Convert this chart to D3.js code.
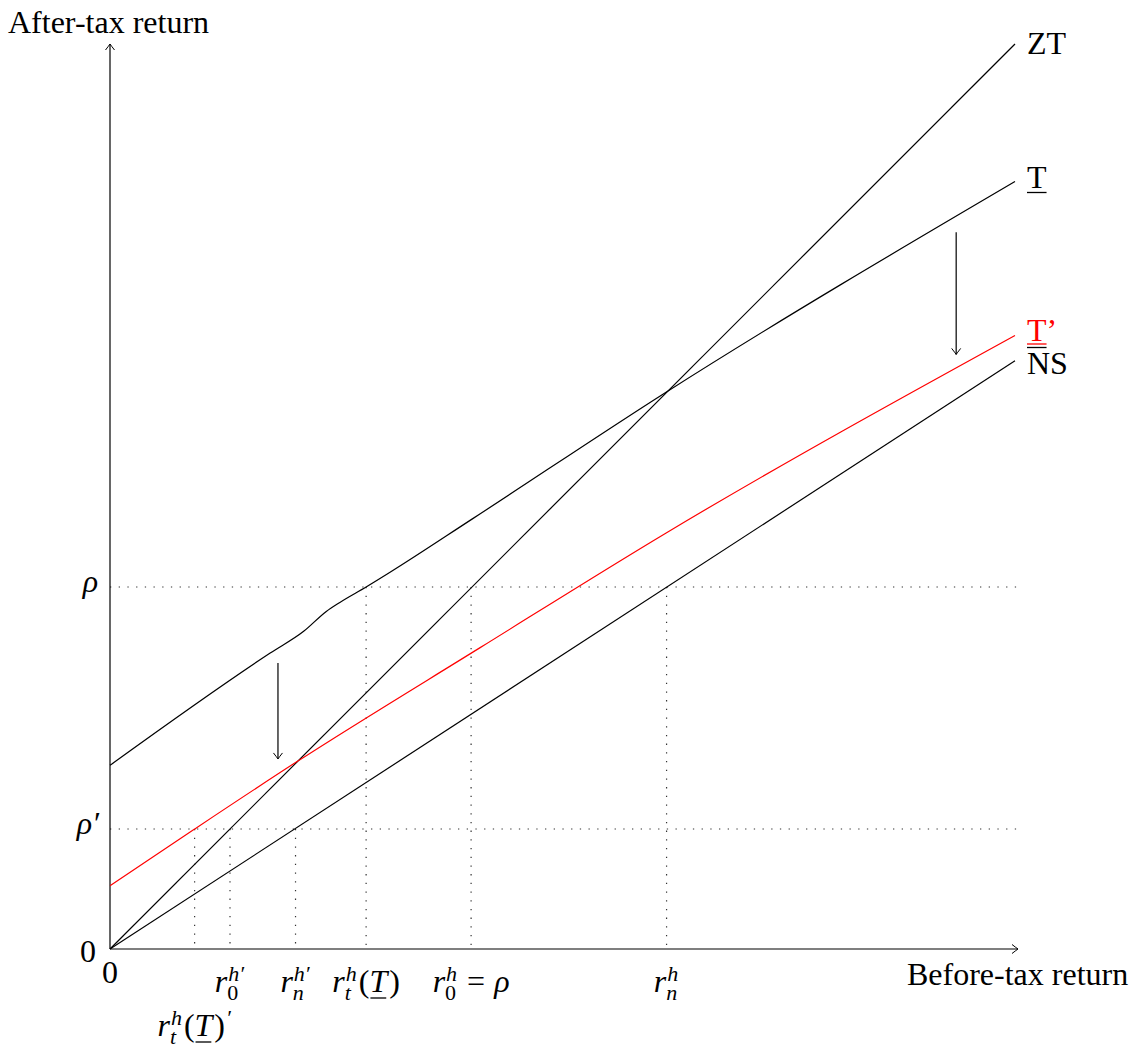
<!DOCTYPE html>
<html>
<head>
<meta charset="utf-8">
<script src="https://cdn.jsdelivr.net/npm/d3@7"></script>
<style>
  body { margin: 0; background: #fff; }
  text { font-family: "Liberation Serif", "Times New Roman", "DejaVu Serif", serif; }
</style>
</head>
<body>
<div id="scene"></div>
<script>
// ---- data (axis units) ----
var rho = 4.0;
var rhoPrime = 1.326;

var lineZT = [[0, 0], [10, 10]];
var lineNS = [[0, 0], [10, 6.5]];
var lineT = [[0, 2.03], [1.77, 3.27], [2.14, 3.51], [2.39, 3.73], [2.54, 3.83],
             [2.83, 4.0], [3.09, 4.16], [4.0, 4.75], [6.14, 6.15], [10, 8.48]];
var lineTp = [[0, 0.70], [0.935, 1.326], [2.05, 2.06], [4.09, 3.33], [6.15, 4.60], [10, 6.78]];

// dotted drop lines: x position and the level they come down from
var dropX = [0.935, 1.326, 2.05, 2.83, 3.99, 6.15];
var dropLevel = [rhoPrime, rhoPrime, rhoPrime, rho, rho, rho];

// shift arrows: x, from y, to y
var shiftArrows = [[1.856, 3.16, 2.10], [9.35, 7.92, 6.57]];

var ctx = {
  w: 1142,
  h: 1048,
  x0: 110, x1: 1015,
  y0: 949, y1: 44,
  fs: 32
};

var x = d3.scaleLinear().domain([0, 10]).range([ctx.x0, ctx.x1]);
var y = d3.scaleLinear().domain([0, 10]).range([ctx.y0, ctx.y1]);

var svg = d3.select("#scene").append("svg")
  .attr("width", ctx.w)
  .attr("height", ctx.h);

// arrow head like tikz "to"
var defs = svg.append("defs");
defs.append("marker")
  .attr("id", "tip")
  .attr("viewBox", "-8 -6 10 12")
  .attr("refX", 0).attr("refY", 0)
  .attr("markerWidth", 10).attr("markerHeight", 12)
  .attr("markerUnits", "userSpaceOnUse")
  .attr("orient", "auto")
  .append("path")
  .attr("d", "M-6,-4.5 Q-1.5,-1 0,0 Q-1.5,1 -6,4.5")
  .attr("fill", "none")
  .attr("stroke", "#000")
  .attr("stroke-width", 1);

// dotted guides
var dots = "1.3,7.4";
[rho, rhoPrime].forEach(function(v) {
  svg.append("line")
    .attr("x1", x(0)).attr("x2", x(10) + 3)
    .attr("y1", y(v)).attr("y2", y(v))
    .attr("stroke", "#333").attr("stroke-width", 1.2)
    .attr("stroke-dasharray", dots);
});
dropX.forEach(function(d, i) {
  svg.append("line")
    .attr("x1", x(d)).attr("x2", x(d))
    .attr("y1", y(dropLevel[i])).attr("y2", y(0))
    .attr("stroke", "#333").attr("stroke-width", 1.2)
    .attr("stroke-dasharray", dots);
});

// axes
svg.append("line")
  .attr("x1", x(0)).attr("y1", y(0))
  .attr("x2", x(10) + 3).attr("y2", y(0))
  .attr("stroke", "#000").attr("stroke-width", 1.2)
  .attr("marker-end", "url(#tip)");
svg.append("line")
  .attr("x1", x(0)).attr("y1", y(0))
  .attr("x2", x(0)).attr("y2", y(10))
  .attr("stroke", "#000").attr("stroke-width", 1.2)
  .attr("marker-end", "url(#tip)");

// curves
var path = d3.line()
  .x(function(d) { return x(d[0]); })
  .y(function(d) { return y(d[1]); })
  .curve(d3.curveMonotoneX);

[[lineZT, "#000"], [lineNS, "#000"], [lineT, "#000"], [lineTp, "#f00"]].forEach(function(l) {
  svg.append("path")
    .attr("d", path(l[0]))
    .attr("fill", "none")
    .attr("stroke", l[1])
    .attr("stroke-width", 1.2);
});

shiftArrows.forEach(function(a) {
  svg.append("line")
    .attr("x1", x(a[0])).attr("x2", x(a[0]))
    .attr("y1", y(a[1])).attr("y2", y(a[2]))
    .attr("stroke", "#000").attr("stroke-width", 1.2)
    .attr("marker-end", "url(#tip)");
});

// ---- text ----
var txt = function(s, px, py, anchor, color) {
  return svg.append("text")
    .attr("x", px).attr("y", py)
    .attr("font-size", ctx.fs)
    .attr("text-anchor", anchor || "start")
    .attr("fill", color || "#000")
    .text(s);
};

txt("After-tax return", 8, 33);
txt("Before-tax return", 907, 985);

// curve labels
var xl = x(10) + 12;
txt("ZT", xl, 54);
var tLab = txt("T", xl, 188);
var tw = tLab.node().getComputedTextLength();
svg.append("line").attr("x1", xl).attr("x2", xl + tw).attr("y1", 192.5).attr("y2", 192.5)
  .attr("stroke", "#000").attr("stroke-width", 1.3);
txt("T\u2019", xl, 341, "start", "#f00");
svg.append("line").attr("x1", xl).attr("x2", xl + tw).attr("y1", 344).attr("y2", 344)
  .attr("stroke", "#f00").attr("stroke-width", 1.3);
svg.append("line").attr("x1", xl).attr("x2", xl + tw).attr("y1", 347.5).attr("y2", 347.5)
  .attr("stroke", "#000").attr("stroke-width", 1.3);
txt("NS", xl, 374);

// math labels built from pieces
var mathLabel = function(parts, cx, base) {
  var g = svg.append("g");
  var cur = 0;
  parts.forEach(function(p) {
    if (p.b !== undefined) {
      cur += (p.lpad || 0);
      var t = g.append("text")
        .attr("x", cur).attr("y", 0)
        .attr("font-size", ctx.fs)
        .attr("font-style", p.rm ? "normal" : "italic")
        .text(p.b);
      var w = t.node().getComputedTextLength();
      if (p.u) {
        g.append("line").attr("x1", cur + 1).attr("x2", cur + w - 1)
          .attr("y1", 6).attr("y2", 6)
          .attr("stroke", "#000").attr("stroke-width", 1.3);
      }
      cur += w + (p.pad || 0);
    } else {
      var w2 = 0;
      if (p.sup) {
        var s = g.append("text").attr("x", cur + 1).attr("y", -11)
          .attr("font-size", 22).attr("font-style", "italic").text(p.sup);
        w2 = Math.max(w2, s.node().getComputedTextLength() + 1);
      }
      if (p.sub) {
        var b = g.append("text").attr("x", cur).attr("y", 8)
          .attr("font-size", 22).attr("font-style", p.subRm ? "normal" : "italic").text(p.sub);
        w2 = Math.max(w2, b.node().getComputedTextLength());
      }
      cur += w2 + 1;
    }
  });
  g.attr("transform", "translate(" + (cx - cur / 2) + "," + base + ")");
};

var rtT = [{b: "r"}, {sup: "h", sub: "t"}, {b: "(", rm: true, lpad: 1}, {b: "T", u: true, pad: 2}, {b: ")", rm: true}];

mathLabel([{b: "r"}, {sup: "h\u2032", sub: "0", subRm: true}], x(dropX[1]), 992);
mathLabel([{b: "r"}, {sup: "h\u2032", sub: "n"}], x(dropX[2]), 992);
mathLabel(rtT, x(dropX[3]), 992);
mathLabel([{b: "r"}, {sup: "h", sub: "0", subRm: true},
           {b: "=", rm: true, lpad: 9, pad: 9}, {b: "\u03c1"}], x(dropX[4]), 992);
mathLabel([{b: "r"}, {sup: "h", sub: "n"}], x(dropX[5]), 992);
mathLabel(rtT.concat([{sup: "\u2032"}]), x(dropX[0]), 1036);

// axis values
txt("0", x(0), 983, "middle");
txt("0", 96, 962, "end");
svg.append("text").attr("x", 98).attr("y", y(rho) + 5)
  .attr("font-size", ctx.fs).attr("font-style", "italic").attr("text-anchor", "end").text("\u03c1");
svg.append("text").attr("x", 99).attr("y", y(rhoPrime) + 5)
  .attr("font-size", ctx.fs).attr("font-style", "italic").attr("text-anchor", "end").text("\u03c1\u2032");
</script>
</body>
</html>
